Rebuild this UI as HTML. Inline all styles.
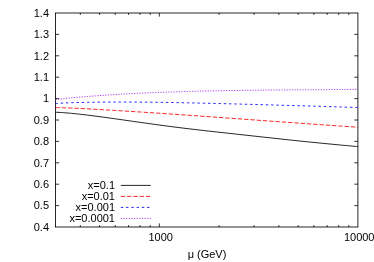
<!DOCTYPE html>
<html lang="en"><head><meta charset="utf-8"><title>plot</title>
<style>
html,body{margin:0;padding:0;background:#fff;}
body{width:374px;height:262px;overflow:hidden;}
svg{display:block;will-change:transform;}
text{font-family:"Liberation Sans",sans-serif;font-size:11px;fill:#000;}
</style></head><body>
<svg width="374" height="262" viewBox="0 0 374 262">
<rect width="374" height="262" fill="#fff"/>
<defs><filter id="b" x="-5%" y="-5%" width="110%" height="110%"><feGaussianBlur stdDeviation="0.35"/></filter></defs>
<g filter="url(#b)">
<path d="M55.5,205.60h3.6M357.9,205.60h-3.6M55.5,184.20h3.6M357.9,184.20h-3.6M55.5,162.80h3.6M357.9,162.80h-3.6M55.5,141.40h3.6M357.9,141.40h-3.6M55.5,120.00h3.6M357.9,120.00h-3.6M55.5,98.60h3.6M357.9,98.60h-3.6M55.5,77.20h3.6M357.9,77.20h-3.6M55.5,55.80h3.6M357.9,55.80h-3.6M55.5,34.40h3.6M357.9,34.40h-3.6M159.33,227.0v-3.6M159.33,13.0v3.6M80.31,227.0v-1.9M80.31,13.0v1.9M99.55,227.0v-1.9M99.55,13.0v1.9M115.28,227.0v-1.9M115.28,13.0v1.9M128.57,227.0v-1.9M128.57,13.0v1.9M140.09,227.0v-1.9M140.09,13.0v1.9M150.24,227.0v-1.9M150.24,13.0v1.9M219.10,227.0v-1.9M219.10,13.0v1.9M254.07,227.0v-1.9M254.07,13.0v1.9M278.88,227.0v-1.9M278.88,13.0v1.9M298.12,227.0v-1.9M298.12,13.0v1.9M313.85,227.0v-1.9M313.85,13.0v1.9M327.14,227.0v-1.9M327.14,13.0v1.9M338.66,227.0v-1.9M338.66,13.0v1.9M348.81,227.0v-1.9M348.81,13.0v1.9" stroke="#000" stroke-width="0.8" fill="none"/>
<rect x="55.5" y="13.0" width="302.40" height="214.00" fill="none" stroke="#000" stroke-width="0.85"/>
</g>
<text x="49.0" y="230.75" text-anchor="end">0.4</text>
<text x="49.0" y="209.35" text-anchor="end">0.5</text>
<text x="49.0" y="187.95" text-anchor="end">0.6</text>
<text x="49.0" y="166.55" text-anchor="end">0.7</text>
<text x="49.0" y="145.15" text-anchor="end">0.8</text>
<text x="49.0" y="123.75" text-anchor="end">0.9</text>
<text x="49.0" y="102.35" text-anchor="end">1</text>
<text x="49.0" y="80.95" text-anchor="end">1.1</text>
<text x="49.0" y="59.55" text-anchor="end">1.2</text>
<text x="49.0" y="38.15" text-anchor="end">1.3</text>
<text x="49.0" y="16.75" text-anchor="end">1.4</text>
<text x="160.68" y="241.4" text-anchor="middle">1000</text>
<text x="359.2" y="241.4" text-anchor="middle">10000</text>
<text x="207" y="258.0" text-anchor="middle">μ (GeV)</text>
<text x="115.0" y="189.4" text-anchor="end">x=0.1</text>
<text x="115.0" y="200.4" text-anchor="end">x=0.01</text>
<text x="115.0" y="211.4" text-anchor="end">x=0.001</text>
<text x="115.0" y="222.4" text-anchor="end">x=0.0001</text>
<g filter="url(#b)">
<path d="M55.50,112.21C56.84,112.29 60.87,112.49 63.56,112.68C66.25,112.87 68.93,113.08 71.62,113.33C74.31,113.58 77.00,113.89 79.69,114.19C82.38,114.49 85.06,114.81 87.75,115.14C90.44,115.47 93.12,115.81 95.81,116.16C98.50,116.51 101.19,116.87 103.88,117.23C106.57,117.59 109.25,117.97 111.94,118.35C114.63,118.73 115.83,118.89 120.00,119.49C124.17,120.08 131.33,121.12 136.99,121.92C142.66,122.72 148.33,123.53 153.99,124.31C159.66,125.09 165.32,125.85 170.98,126.58C176.64,127.31 182.31,128.01 187.97,128.69C193.63,129.37 199.30,130.02 204.96,130.66C210.62,131.30 216.30,131.92 221.96,132.55C227.62,133.18 233.29,133.80 238.95,134.42C244.61,135.04 250.28,135.67 255.94,136.29C261.61,136.91 267.27,137.53 272.94,138.14C278.61,138.75 284.27,139.37 289.93,139.97C295.59,140.57 301.26,141.17 306.92,141.75C312.58,142.33 318.25,142.90 323.91,143.45C329.58,144.00 335.25,144.55 340.91,145.07C346.58,145.59 355.07,146.33 357.90,146.58" fill="none" stroke="#000" stroke-width="0.85"/>
<path d="M55.50,107.57C56.84,107.60 60.87,107.69 63.56,107.77C66.25,107.85 68.93,107.94 71.62,108.05C74.31,108.16 77.00,108.32 79.69,108.46C82.38,108.60 85.06,108.74 87.75,108.89C90.44,109.04 93.12,109.19 95.81,109.34C98.50,109.49 101.19,109.64 103.88,109.80C106.57,109.95 109.25,110.11 111.94,110.27C114.63,110.43 115.83,110.50 120.00,110.75C124.17,111.00 131.33,111.44 136.99,111.80C142.66,112.16 148.33,112.53 153.99,112.90C159.66,113.27 165.32,113.66 170.98,114.04C176.64,114.43 182.31,114.82 187.97,115.21C193.63,115.60 199.30,116.00 204.96,116.40C210.62,116.80 216.30,117.20 221.96,117.61C227.62,118.02 233.29,118.43 238.95,118.84C244.61,119.25 250.28,119.66 255.94,120.07C261.61,120.48 267.27,120.89 272.94,121.30C278.61,121.71 284.27,122.12 289.93,122.52C295.59,122.92 301.26,123.32 306.92,123.72C312.58,124.12 318.25,124.52 323.91,124.91C329.58,125.30 335.25,125.69 340.91,126.07C346.58,126.45 355.07,127.00 357.90,127.19" fill="none" stroke="#f00" stroke-width="0.85" stroke-dasharray="4.3 2.0"/>
<path d="M55.50,103.55C56.84,103.47 60.87,103.20 63.56,103.06C66.25,102.92 68.93,102.78 71.62,102.69C74.31,102.59 77.00,102.55 79.69,102.49C82.38,102.43 85.06,102.39 87.75,102.34C90.44,102.30 93.12,102.25 95.81,102.22C98.50,102.19 101.19,102.15 103.88,102.13C106.57,102.11 109.25,102.09 111.94,102.08C114.63,102.07 115.83,102.06 120.00,102.06C124.17,102.06 131.33,102.07 136.99,102.10C142.66,102.13 148.33,102.19 153.99,102.26C159.66,102.33 165.32,102.42 170.98,102.51C176.64,102.61 182.31,102.71 187.97,102.83C193.63,102.95 199.30,103.08 204.96,103.21C210.62,103.34 216.30,103.48 221.96,103.62C227.62,103.76 233.29,103.91 238.95,104.06C244.61,104.21 250.28,104.36 255.94,104.51C261.61,104.66 267.27,104.82 272.94,104.98C278.61,105.14 284.27,105.29 289.93,105.45C295.59,105.61 301.26,105.78 306.92,105.95C312.58,106.12 318.25,106.29 323.91,106.46C329.58,106.63 335.25,106.80 340.91,106.98C346.58,107.16 355.07,107.43 357.90,107.52" fill="none" stroke="#00f" stroke-width="0.85" stroke-dasharray="2.4 2.86"/>
<path d="M55.50,99.71C56.84,99.54 60.87,99.00 63.56,98.68C66.25,98.36 68.93,98.06 71.62,97.79C74.31,97.53 77.00,97.31 79.69,97.09C82.38,96.87 85.06,96.66 87.75,96.45C90.44,96.24 93.12,96.04 95.81,95.85C98.50,95.66 101.19,95.46 103.88,95.28C106.57,95.10 109.25,94.93 111.94,94.76C114.63,94.59 115.83,94.50 120.00,94.27C124.17,94.04 131.33,93.65 136.99,93.37C142.66,93.09 148.33,92.83 153.99,92.60C159.66,92.37 165.32,92.16 170.98,91.97C176.64,91.78 182.31,91.61 187.97,91.45C193.63,91.29 199.30,91.16 204.96,91.03C210.62,90.90 216.30,90.79 221.96,90.69C227.62,90.59 233.29,90.51 238.95,90.43C244.61,90.35 250.28,90.28 255.94,90.22C261.61,90.16 267.27,90.10 272.94,90.05C278.61,90.00 284.27,89.95 289.93,89.91C295.59,89.87 301.26,89.83 306.92,89.79C312.58,89.75 318.25,89.71 323.91,89.67C329.58,89.63 335.25,89.58 340.91,89.53C346.58,89.48 355.07,89.39 357.90,89.36" fill="none" stroke="#a020f0" stroke-width="0.85" stroke-dasharray="1.2 1.43"/>
<path d="M120.8,185.4H150.8" stroke="#000" stroke-width="0.85" fill="none"/>
<path d="M120.8,196.4H150.8" stroke="#f00" stroke-width="0.85" fill="none" stroke-dasharray="4.3 2.0"/>
<path d="M120.8,207.4H150.8" stroke="#00f" stroke-width="0.85" fill="none" stroke-dasharray="2.4 2.86"/>
<path d="M120.8,218.4H150.8" stroke="#a020f0" stroke-width="0.85" fill="none" stroke-dasharray="1.2 1.43"/>
</g>
</svg>
</body></html>
